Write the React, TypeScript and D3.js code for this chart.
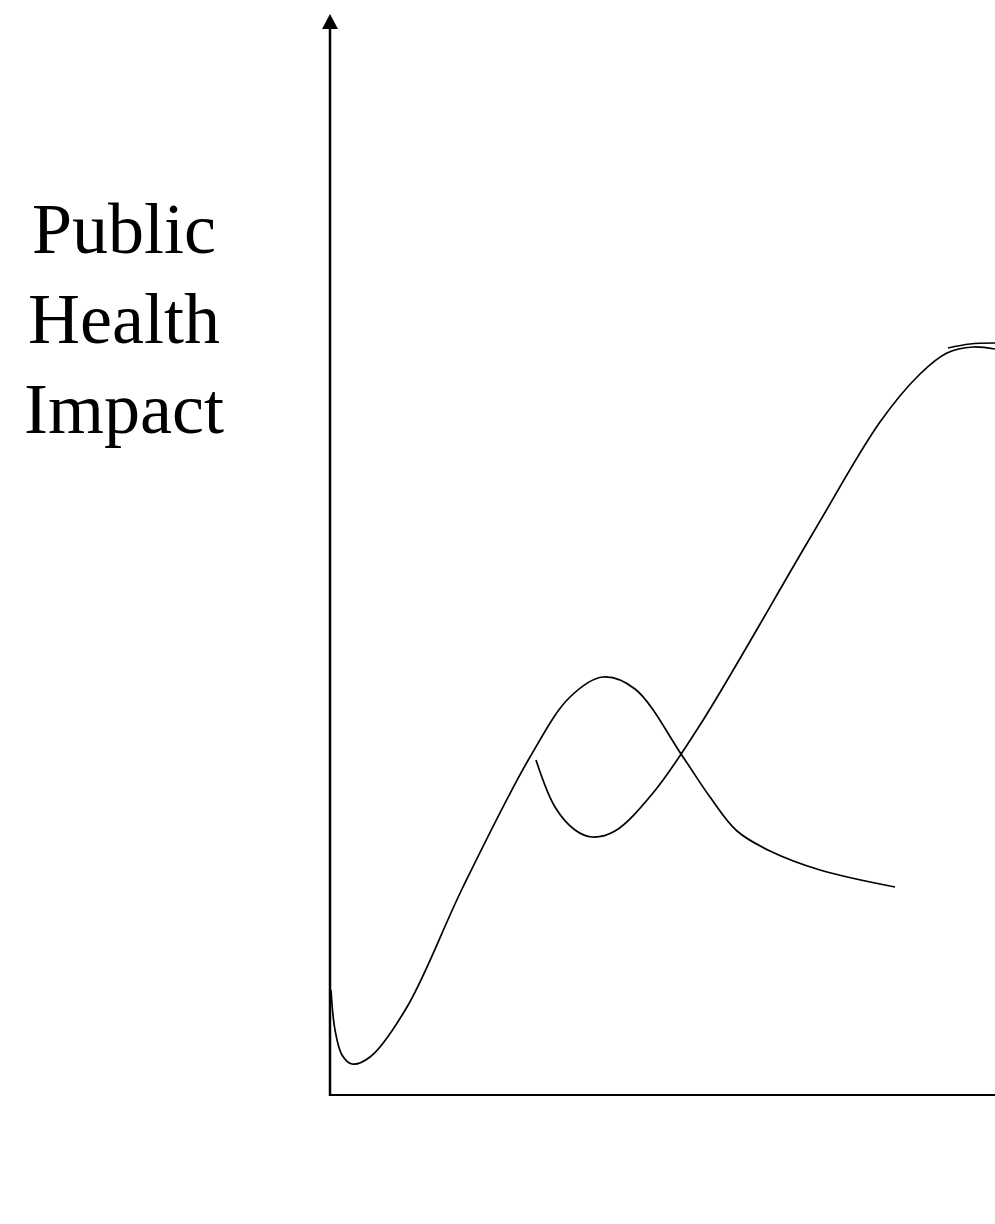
import React from "react";
import * as d3 from "d3";

// Conceptual chart: arbitrary units (time on x, public health impact on y)
const curveA_x = [1, 5, 12, 22, 40, 77, 133, 200, 240, 273, 305, 353, 380, 407, 440, 490, 565];
const curveA_y = [105, 65, 40, 31, 38, 88, 208, 338, 398, 418, 406, 338, 298, 264, 244, 225, 208];

const curveB_x = [206, 225, 245, 262, 285, 323, 370, 483, 550, 590, 617, 643, 665];
const curveB_y = [335, 288, 265, 258, 264, 302, 370, 562, 673, 721, 742, 748, 746];

const curveC_x = [618, 640, 665];
const curveC_y = [747, 751, 752];

const yLabelLines = ["Public", "Health", "Impact"];

const W = 995;
const H = 1224;

export default function App() {
  const x = d3.scaleLinear().domain([0, 665]).range([330, 995]);
  const y = d3.scaleLinear().domain([0, 1081]).range([1095, 14]);

  const line = d3
    .line<[number, number]>()
    .x((d) => x(d[0]))
    .y((d) => y(d[1]))
    .curve(d3.curveCatmullRom.alpha(0.5));

  const zip = (xs: number[], ys: number[]) => xs.map((v, i) => [v, ys[i]] as [number, number]);
  const series = [zip(curveA_x, curveA_y), zip(curveB_x, curveB_y), zip(curveC_x, curveC_y)];

  const x0 = x(0);
  const y0 = y(0);
  const yTop = y(1081);
  const arrowBase = yTop + 15;

  return (
    <svg
      width={W}
      height={H}
      style={{ position: "absolute", left: 0, top: 0, display: "block", background: "#fff" }}
    >
      <rect width={W} height={H} fill="#fff" />
      {/* axes */}
      <line x1={x0} y1={arrowBase} x2={x0} y2={y0 + 1} stroke="#000" strokeWidth={2.5} />
      <line x1={x0 - 1} y1={y0} x2={x(665)} y2={y0} stroke="#000" strokeWidth={2} />
      <path
        d={`M${x0},${yTop} L${x0 - 8},${arrowBase} L${x0 + 8},${arrowBase} Z`}
        fill="#000"
      />
      {/* curves */}
      {series.map((s, i) => (
        <path key={i} d={line(s) || ""} fill="none" stroke="#000" strokeWidth={1.7} />
      ))}
      {/* y label */}
      {yLabelLines.map((t, i) => (
        <text
          key={t}
          x={124}
          y={253 + i * 90}
          textAnchor="middle"
          fontFamily="'Liberation Serif', 'Times New Roman', serif"
          fontSize={72}
          fill="#000"
        >
          {t}
        </text>
      ))}
    </svg>
  );
}
